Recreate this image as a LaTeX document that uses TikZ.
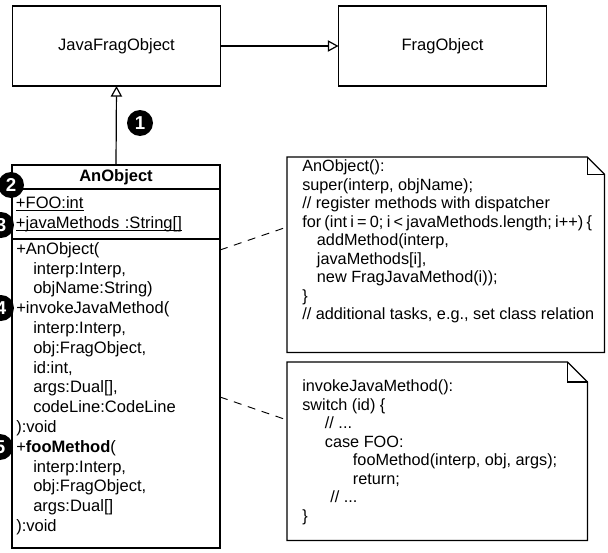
\documentclass[tikz,border=0pt]{standalone}
\usepackage{fontspec}
\setmainfont{Liberation Sans}
\usetikzlibrary{arrows.meta, positioning, calc}
\newcommand{\indt}{\hspace*{12.75pt}}
\newcommand{\attrline}[1]{\underline{\vphantom{F}\smash{#1}}}
\tikzset{
    umlbox/.style={rectangle, draw=black, line width=0.9pt, minimum width=156pt, inner sep=0pt, outer sep=0pt, font=\fontsize{12.4}{14}\selectfont},
    compartment/.style={umlbox, align=left, text width=150pt, inner ysep=2pt},
    classtext/.style={anchor=north west, inner sep=0pt, align=left, font=\fontsize{12.4}{14.85}\selectfont},
    notetext/.style={anchor=north west, inner sep=0pt, align=left, font=\fontsize{12.2}{13.9}\selectfont},
    notebox/.style={anchor=north west, inner sep=0pt},
    marker/.style={circle, fill=black, text=white, minimum size=19.5pt, inner sep=0pt, font=\fontsize{14}{14}\selectfont\bfseries},
}

\begin{document}
\begin{tikzpicture}[
  x=0.75pt, y=-0.75pt,
  inherit/.style={line width=0.9pt, -{Triangle[open, length=8pt, width=8.5pt, line width=0.9pt]}},
  notelink/.style={line width=0.7pt, dash pattern=on 6pt off 5pt},
  noteline/.style={line width=0.9pt, line join=miter}
]
\useasboundingbox (0,0) rectangle (608,553);
\clip (0,0) rectangle (608,553);

% Top row - superclasses
\node[umlbox, minimum height=60pt] (javafrag) at (116.5,46) {JavaFragObject};
\node[umlbox, minimum height=60pt, right=88.5pt of javafrag] (frag) {FragObject};

% AnObject class with its compartments
\node[umlbox, minimum height=18pt, anchor=north west, font=\fontsize{12.4}{14}\selectfont\bfseries] (anobj) at (12,165) {AnObject};
\node[compartment, minimum height=37.5pt, below=0pt of anobj, font=\fontsize{12.4}{15}\selectfont] (attrs) {\attrline{+FOO:int}\\\attrline{+javaMethods :String[]}};
\node[umlbox, minimum height=231.75pt, below=0pt of attrs] (methods) {};
\node[classtext] (methodtext) at (16,242) {+AnObject(\\
\indt interp:Interp,\\
\indt objName:String)\\
+invokeJavaMethod(\\
\indt interp:Interp,\\
\indt obj:FragObject,\\
\indt id:int,\\
\indt args:Dual[],\\
\indt codeLine:CodeLine\\
):void\\
+\textbf{fooMethod}(\\
\indt interp:Interp,\\
\indt obj:FragObject,\\
\indt args:Dual[]\\
):void};

% Notes
\node[notebox, minimum width=237.75pt, minimum height=146.25pt] (ctornote) at (287,157) {};
\node[notetext] (ctortext) at (302,159.5) {AnObject():\\
super(interp, objName);\\
// register methods with dispatcher\\
{\spaceskip=0.2em for (int i = 0; i < javaMethods.length; i++) \{}\\
\hspace*{11pt}addMethod(interp,\\
\hspace*{11pt}javaMethods[i],\\
\hspace*{11pt}new FragJavaMethod(i));\\
\}\\
// additional tasks, e.g., set class relation};

\node[notebox, minimum width=225pt, minimum height=133.5pt] (invokenote) at (287,362) {};
\node[notetext] (invoketext) at (302,379.5) {invokeJavaMethod():\\
switch (id) \{\\
\hspace*{17pt}// ...\\
\hspace*{17pt}case FOO:\\
\hspace*{38pt}fooMethod(interp, obj, args);\\
\hspace*{38pt}return;\\
\hspace*{21pt}// ...\\
\}};

% folded corners
\foreach \n/\f in {ctornote/13pt, invokenote/15pt} {
  \draw[noteline] (\n.south west) -- (\n.north west) -- ([xshift=-\f]\n.north east)
    -- ([yshift=-\f]\n.north east) -- (\n.south east) -- cycle;
  \draw[noteline] ([xshift=-\f]\n.north east) |- ([yshift=-\f]\n.north east);
}

% Arrows
\draw[inherit] (javafrag.east) -- (frag.west);
\draw[inherit] (anobj.north) -- (javafrag.south);
\draw[notelink] ([yshift=-8.25pt]methods.north east) -- ([yshift=-52.5pt]ctornote.north west);
\draw[notelink] ([yshift=-118.5pt]methods.north east) -- ([yshift=-43.5pt]invokenote.north west);

% Numbered markers
\node[marker] (m1) at (140,123) {1};
\node[marker] (m2) at (11,185) {2};
\node[marker] (m3) at (1,225) {3};
\node[marker] (m4) at (1,308) {4};
\node[marker] (m5) at (0,447) {5};
\end{tikzpicture}
\end{document}
